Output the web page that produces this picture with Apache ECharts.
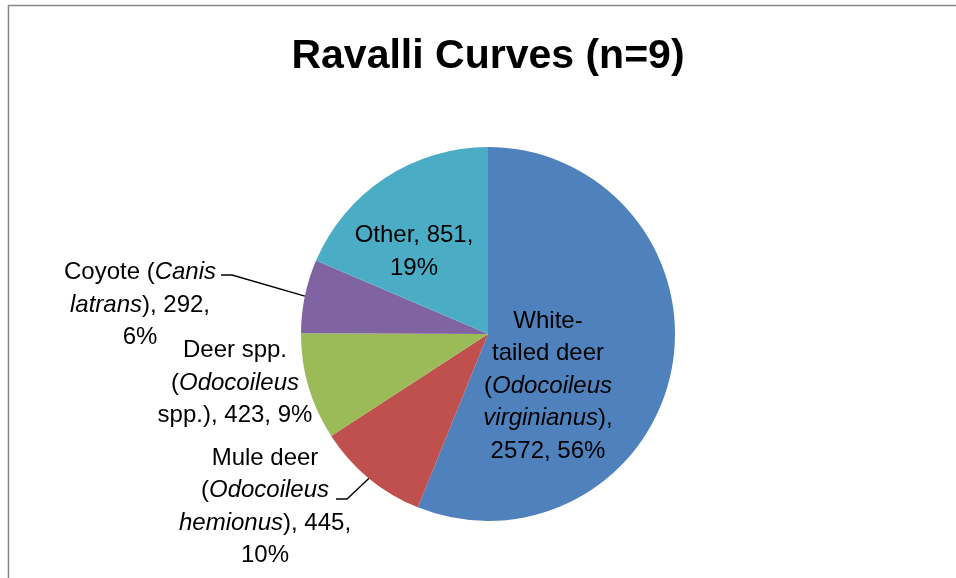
<!DOCTYPE html>
<html>
<head>
<meta charset="utf-8">
<script src="https://cdn.jsdelivr.net/npm/echarts@6/dist/echarts.min.js"></script>
<style>
html,body{margin:0;padding:0;background:#fff;}
#chart{width:956px;height:578px;}
</style>
</head>
<body>
<div id="chart"></div>
<script>
const titleText = 'Ravalli Curves (n=9)';
const categories = ['White-tailed deer (Odocoileus virginianus)', 'Mule deer (Odocoileus hemionus)', 'Deer spp. (Odocoileus spp.)', 'Coyote (Canis latrans)', 'Other'];
const values = [2572, 445, 423, 292, 851];
const colors = ['#4F81BD', '#C0504D', '#9BBB59', '#8064A2', '#4BACC6'];
const labelTemplates = [
  'White-\ntailed deer\n({i|Odocoileus}\n{i|virginianus}),\n%v, %p',
  'Mule deer\n({i|Odocoileus}\n{i|hemionus}), %v,\n%p',
  'Deer spp.\n({i|Odocoileus}\nspp.), %v, %p',
  'Coyote ({i|Canis}\n{i|latrans}), %v,\n%p',
  'Other, %v,\n%p'
];
const labelInside = [true, false, false, false, true];
const labelLineShown = [false, true, false, true, false];

// label placement (styling)
const labelPos = [[548, 386], [265, 507], [235, 383], [140, 305], [414, 252]];
const labelKnees = [null, [[347, 499], [336, 499]], null, [[232, 275], [221, 275]], null];

const FONT = '"Liberation Sans", Arial, sans-serif';
const chart = echarts.init(document.getElementById('chart'));

const data = categories.map((name, i) => ({
  name: name,
  value: values[i],
  itemStyle: { color: colors[i] },
  label: { position: labelInside[i] ? 'inside' : 'outside' },
  labelLine: { show: labelLineShown[i] }
}));

chart.setOption({
  animation: false,
  backgroundColor: '#fff',
  graphic: [{
    type: 'rect',
    shape: { x: 8.5, y: 5.5, width: 1000, height: 700 },
    style: { fill: 'none', stroke: '#878787', lineWidth: 1.5 },
    silent: true
  }, {
    type: 'text',
    x: 488,
    y: 57,
    silent: true,
    style: {
      text: titleText,
      align: 'center',
      verticalAlign: 'middle',
      fontFamily: FONT,
      fontWeight: 'bold',
      fontSize: 41,
      fill: '#000'
    }
  }],
  series: [{
    type: 'pie',
    center: [488, 334],
    radius: 187,
    startAngle: 90,
    clockwise: true,
    avoidLabelOverlap: false,
    data: data,
    itemStyle: { borderWidth: 0 },
    label: {
      show: true,
      color: '#000',
      fontFamily: FONT,
      fontSize: 24,
      lineHeight: 32.5,
      align: 'center',
      formatter: function (p) {
        const i = p.dataIndex;
        return labelTemplates[i].replace('%v', values[i]).replace('%p', Math.round(p.percent) + '%');
      },
      rich: {
        i: { fontStyle: 'italic', fontFamily: FONT, fontSize: 24, lineHeight: 32.5, color: '#000' }
      }
    },
    labelLine: {
      length: 10, length2: 10,
      lineStyle: { color: '#000', width: 1.4 }
    },
    labelLayout: function (params) {
      const i = params.dataIndex;
      const res = { x: labelPos[i][0], y: labelPos[i][1], align: 'center', verticalAlign: 'middle' };
      if (labelKnees[i] && params.labelLinePoints) {
        res.labelLinePoints = [params.labelLinePoints[0], labelKnees[i][0], labelKnees[i][1]];
      }
      return res;
    }
  }]
});
</script>
</body>
</html>
